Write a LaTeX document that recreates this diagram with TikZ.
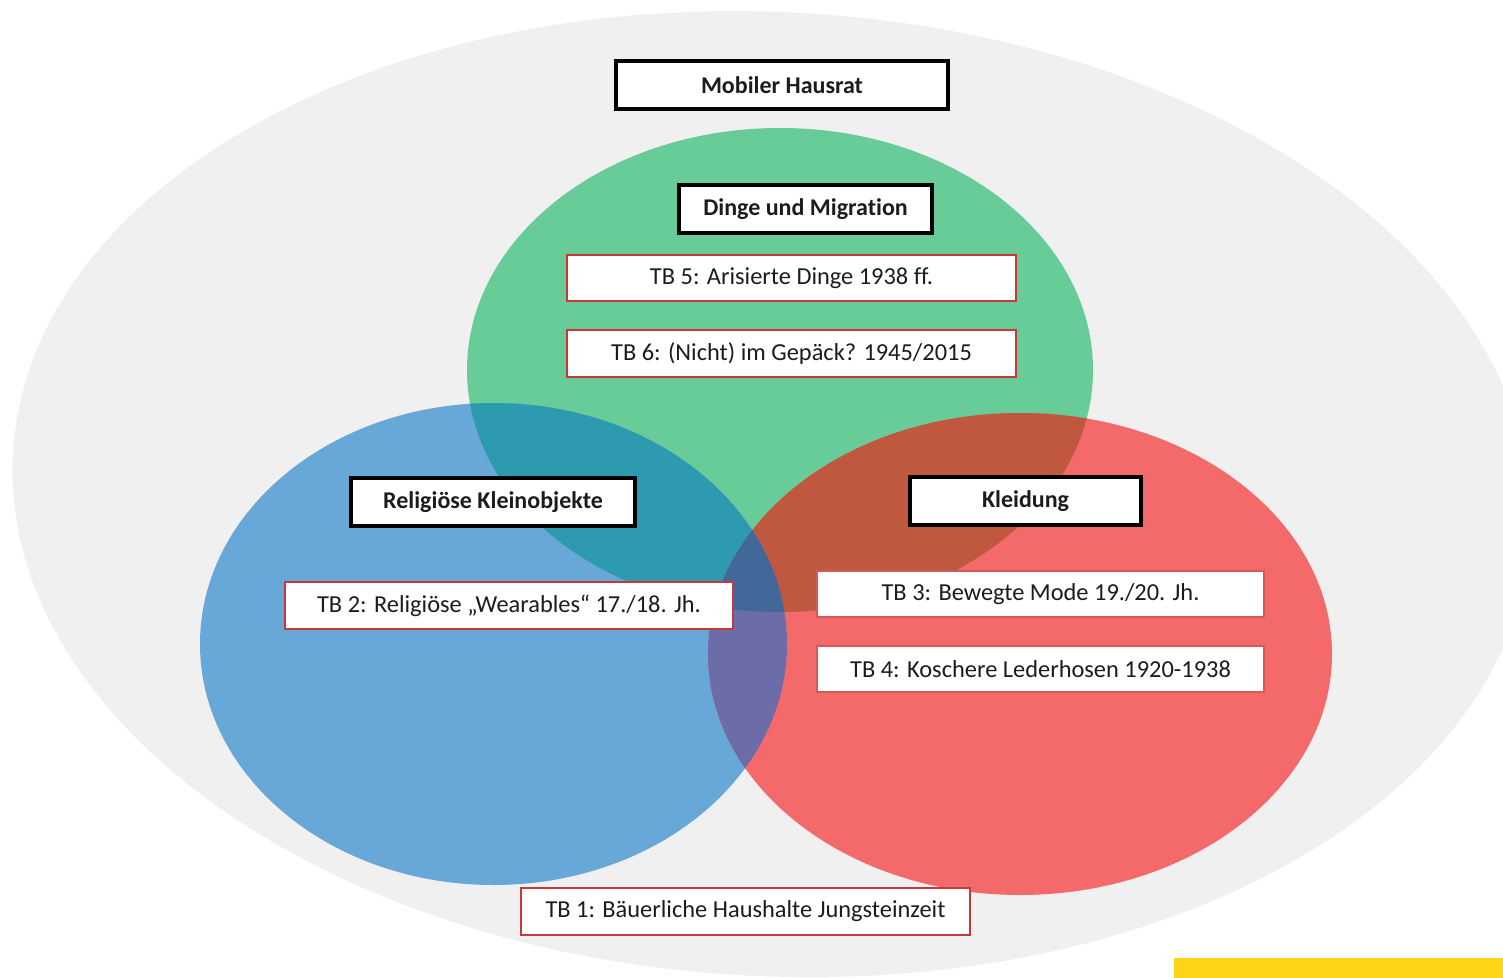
\documentclass[tikz,border=0pt]{standalone}
\usepackage{fontspec}
\setmainfont{Carlito}[Ligatures=CommonOff]
\definecolor{bgGrey}{HTML}{F0F0F0}
\definecolor{cGreen}{HTML}{68CC99}
\definecolor{cBlue}{HTML}{68A8D8}
\definecolor{cRed}{HTML}{F46A6A}
\definecolor{cBG}{HTML}{2E9AAF}
\definecolor{cGR}{HTML}{C0583F}
\definecolor{cBR}{HTML}{6B6CA8}
\definecolor{cGBR}{HTML}{42689A}
\definecolor{boxRed}{HTML}{C8373A}
\definecolor{boxRedSoft}{HTML}{D45A5A}
\definecolor{txt}{HTML}{1C1C1C}
\definecolor{cYellow}{HTML}{FDD418}
\tikzset{
  titlebox/.style={draw=black, line width=1.6pt, fill=white, inner sep=0pt,
    font=\fontsize{12}{14}\selectfont\bfseries, text=txt},
  tbbox/.style={draw=boxRed, line width=1.4pt, fill=white, inner sep=0pt,
    font=\fontsize{12.2}{14}\selectfont, text=txt},
  tbsoft/.style={draw=boxRedSoft, line width=0.9pt, fill=white, inner sep=0pt,
    font=\fontsize{12.2}{14}\selectfont, text=txt},
}
\begin{document}
\begin{tikzpicture}[x=0.5pt,y=-0.5pt]
\useasboundingbox[fill=white] (0,0) rectangle (1503,978);
% big grey ellipse
\fill[bgGrey, rotate around={-3:(770,493)}] (772,494) ellipse [x radius=760, y radius=482];
% three circles
\def\G{(780,370) ellipse [x radius=313, y radius=242]}
\def\B{(493.5,644) ellipse [x radius=293.5, y radius=241]}
\def\R{(1020,654) ellipse [x radius=312, y radius=241]}
\fill[cGreen] \G;
\fill[cBlue] \B;
\fill[cRed] \R;
\begin{scope}\clip \G; \fill[cBG] \B; \end{scope}
\begin{scope}\clip \G; \fill[cGR] \R; \end{scope}
\begin{scope}\clip \B; \fill[cBR] \R; \end{scope}
\begin{scope}\clip \G; \clip \B; \fill[cGBR] \R; \end{scope}
% yellow bar
\fill[cYellow] (1174,958) rectangle (1503,978);
% title boxes
\node[titlebox, minimum width=166pt, minimum height=24pt] (mh) at (782,85) {Mobiler Hausrat};
\node[titlebox, minimum width=126.5pt, minimum height=24pt] (dm) at (805.5,209) {Dinge und Migration};
\node[titlebox, minimum width=142pt, minimum height=24pt] (rk) at (493,502) {Religiöse Kleinobjekte};
\node[titlebox, minimum width=115.5pt, minimum height=24pt] (kl) at (1025.5,501) {Kleidung};
% TB boxes
\node[tbbox, minimum width=224.5pt, minimum height=23pt] (tb5) at (791.5,278) {TB 5: Arisierte Dinge 1938 ff.};
\node[tbbox, minimum width=224.5pt, minimum height=23.5pt] (tb6) at (791.5,353.5) {TB 6: (Nicht) im Gepäck? 1945/2015};
\node[tbbox, minimum width=224pt, minimum height=23.5pt] (tb2) at (509,605.5) {TB 2: Religiöse „Wearables“ 17./18. Jh.};
\node[tbsoft, minimum width=223.5pt, minimum height=23pt] (tb3) at (1040.5,594) {TB 3: Bewegte Mode 19./20. Jh.};
\node[tbsoft, minimum width=223.5pt, minimum height=23pt] (tb4) at (1040.5,669) {TB 4: Koschere Lederhosen 1920-1938};
\node[tbbox, minimum width=224.5pt, minimum height=23.5pt] (tb1) at (745.5,911.5) {TB 1: Bäuerliche Haushalte Jungsteinzeit};
\end{tikzpicture}
\end{document}
